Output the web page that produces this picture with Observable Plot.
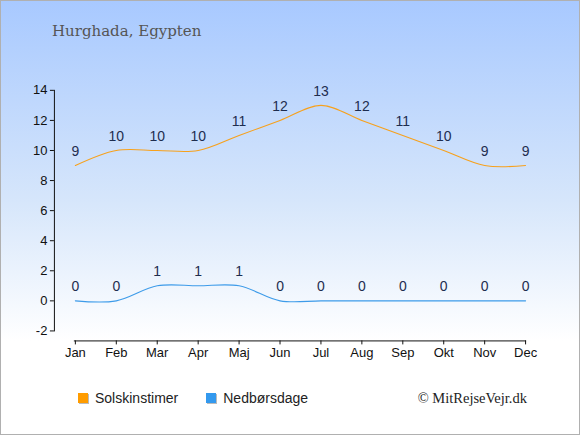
<!DOCTYPE html>
<html><head><meta charset="utf-8">
<script src="https://cdn.jsdelivr.net/npm/d3@7"></script>
<script src="https://cdn.jsdelivr.net/npm/@observablehq/plot@0.6"></script>
<style>
html,body{margin:0;padding:0;}
#wrap{position:relative;width:578px;height:433px;border:1px solid #b0b0b0;
 background:linear-gradient(to bottom,#a8c9ff 0px,#d6e6fb 200px,#ffffff 340px,#ffffff 433px);overflow:hidden;font-family:"Liberation Sans",Arial,sans-serif;}
#title{position:absolute;left:51px;top:21px;font-family:"DejaVu Serif",serif;font-size:15px;color:#555;}
#chart{position:absolute;left:-1px;top:-1px;}
#legend{position:absolute;left:77px;top:389px;font-size:14px;color:#222;display:flex;align-items:center;}
.sw{display:inline-block;width:10px;height:10px;box-shadow:1px 1px 0 #bbb;margin-right:7px;}
.item{display:flex;align-items:center;margin-right:28px;}
#copy{position:absolute;right:52px;top:389px;font-family:"Liberation Serif",serif;font-size:14.5px;color:#222;}
</style></head>
<body>
<div id="wrap">
<div id="title">Hurghada, Egypten</div>
<div id="chart"></div>
<div id="legend"><span class="item"><span class="sw" style="background:#ff9c00"></span>Solskinstimer</span><span class="item"><span class="sw" style="background:#3399ee"></span>Nedbørsdage</span></div>
<div id="copy">© MitRejseVejr.dk</div>
</div>
<script>
const months = ["Jan","Feb","Mar","Apr","Maj","Jun","Jul","Aug","Sep","Okt","Nov","Dec"];
const sunHours = [9,10,10,10,11,12,13,12,11,10,9,9];
const rainDays = [0,0,1,1,1,0,0,0,0,0,0,0];
const yTicks = [-2,0,2,4,6,8,10,12,14];

const sun = months.map((m,i)=>({month:m, v:sunHours[i]}));
const rain = months.map((m,i)=>({month:m, v:rainDays[i]}));

const plot = Plot.plot({
  width: 580, height: 370,
  marginLeft: 54, marginRight: 54, marginTop: 90, marginBottom: 29,
  style: {background: "transparent", fontFamily: "'Liberation Sans', Arial, sans-serif", fontSize: "13px", color: "#111"},
  x: {type: "point", domain: months, range: [74, 526], padding: 0},
  y: {domain: [-2, 14], range: [331, 90]},
  marks: [
    Plot.frame({anchor: "left", insetBottom: 10, stroke: "#111"}),
    Plot.frame({anchor: "bottom", insetLeft: 20, stroke: "#111"}),
    Plot.axisY({ticks: yTicks, tickSize: 4, tickPadding: 3, label: null, fontSize: 13, tickFormat: d => String(d)}),
    Plot.axisX({tickSize: 4, tickPadding: 3, label: null, fontSize: 13}),
    Plot.line(sun, {x: "month", y: "v", stroke: "#f7a11c", strokeWidth: 1.1, curve: "catmull-rom"}),
    Plot.line(rain, {x: "month", y: "v", stroke: "#3d9be9", strokeWidth: 1.1, curve: "catmull-rom"}),
    Plot.text(sun, {x: "month", y: "v", text: d => String(d.v), dy: -14, fill: "#1e2d4f", fontSize: 14}),
    Plot.text(rain, {x: "month", y: "v", text: d => String(d.v), dy: -14, fill: "#1e2d4f", fontSize: 14})
  ]
});
document.getElementById("chart").appendChild(plot);
</script>
</body></html>
